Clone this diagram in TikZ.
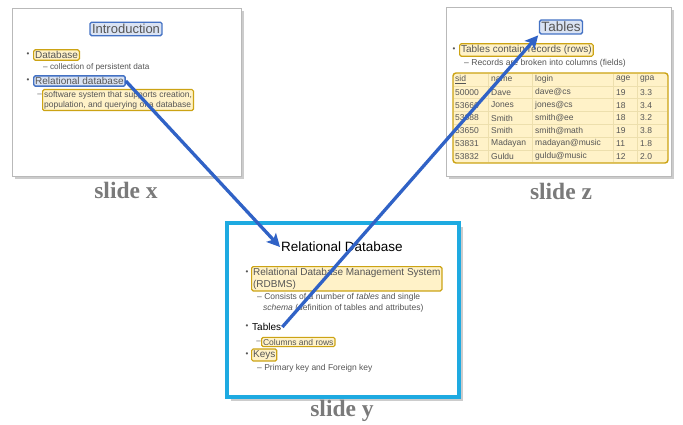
\documentclass[tikz,border=0pt]{standalone}
\usepackage{fontspec}
\setmainfont{Liberation Sans}
\newfontfamily\labelfont{Liberation Serif}
\usetikzlibrary{arrows.meta}

\definecolor{azulcaja}{RGB}{68,114,196}
\definecolor{azulfondo}{RGB}{218,227,243}
\definecolor{oro}{RGB}{204,163,20}
\definecolor{orofondo}{RGB}{255,242,200}
\definecolor{cian}{RGB}{30,170,225}
\definecolor{flecha}{RGB}{48,98,198}
\definecolor{texto}{RGB}{85,85,85}
\definecolor{gris}{RGB}{122,122,122}
\newcommand{\fsz}[2]{\fontsize{#1}{#2}\selectfont}

\tikzset{
  diapo/.style={draw=gray!55,fill=white,line width=0.6pt},
  sombra/.style={fill=gray!40},
  marcoazul/.style={draw=azulcaja,fill=azulfondo,line width=1.4pt,rounded corners=1.5pt,inner sep=2pt,text=texto},
  marcooro/.style={draw=oro,fill=orofondo,line width=1.2pt,rounded corners=1.5pt,inner sep=1.5pt,text=texto},
  txt/.style={text=texto,inner sep=1pt},
  punto/.style={text=texto,inner sep=0pt,font=\fsz{8}{8}},
  etiqueta/.style={font=\labelfont\bfseries\fsz{23.5}{24},text=gris},
  flechaazul/.style={draw=flecha,line width=3.3pt,-{Stealth[length=13pt,width=13pt,inset=3pt]}}
}

\begin{document}
\begin{tikzpicture}[x=1pt,y=-1pt]
  \useasboundingbox (0,0) rectangle (683,425);
  % slide x (arriba izquierda)
  \fill[sombra] (15,11) rectangle (244,179);
  \draw[diapo] (12,8) rectangle (241,176);
  \node[marcoazul,font=\fsz{13}{15}] (xtitulo) at (126,29){Introduction};
  \node[punto] (xp1) at (28,55){•};
  \node[marcooro,anchor=west,font=\fsz{10}{12}] (xdb) at (33,55){Database};
  \node[txt,anchor=west,font=\fsz{8.2}{9}] (xcol) at (42,67){-- collection of persistent data};
  \node[punto] (xp2) at (28,81){•};
  \node[marcoazul,anchor=west,font=\fsz{10}{12},inner sep=1.5pt] (xrel) at (33,81){Relational database};
  \node[txt,anchor=east,font=\fsz{8}{10}] (xguion) at (43,95){--};
  \node[marcooro,anchor=north west,align=left,font=\fsz{8.5}{10}] (xsoft) at (42,89){software system that supports creation,\\population, and querying of a database};
  \node[etiqueta] (lx) at (126,190){slide x};

  % slide z (arriba derecha)
  \fill[sombra] (449,10) rectangle (674,179);
  \draw[diapo] (446,7) rectangle (671,176);
  \node[marcoazul,font=\fsz{13.5}{15}] (ztitulo) at (561,27){Tables};
  \node[punto] (zp1) at (454,50){•};
  \node[marcooro,anchor=west,font=\fsz{10}{12}] (zrec) at (459,50){Tables contain records (rows)};
  \node[txt,anchor=west,font=\fsz{8.6}{9}] (zcol) at (463,63){-- Records are broken into columns (fields)};
  % tabla
  \draw[marcooro,line width=1.4pt,rounded corners=3pt] (453,73) rectangle (668,163);
  \foreach \i in {1,...,6} \draw[oro!35,line width=0.5pt] (454,73+\i*12.857) -- (667,73+\i*12.857);
  \foreach \xc in {488,532,613,637} \draw[oro!35,line width=0.5pt] (\xc,74) -- (\xc,162);
  \foreach \ca/\cb/\cc/\cd/\ce [count=\i from 0] in {\underline{sid}/name/login/age/gpa,50000/Dave/dave@cs/19/3.3,53666/Jones/jones@cs/18/3.4,53688/Smith/smith@ee/18/3.2,53650/Smith/smith@math/19/3.8,53831/Madayan/madayan@music/11/1.8,53832/Guldu/guldu@music/12/2.0}{
    \node[txt,anchor=west,font=\fsz{8.5}{9}] (t\i-1) at (454,73+\i*12.857+6.4){\ca};
    \node[txt,anchor=west,font=\fsz{8.5}{9}] (t\i-2) at (490,73+\i*12.857+6.4){\cb};
    \node[txt,anchor=west,font=\fsz{8.5}{9}] (t\i-3) at (534,73+\i*12.857+6.4){\cc};
    \node[txt,anchor=west,font=\fsz{8.5}{9}] (t\i-4) at (615,73+\i*12.857+6.4){\cd};
    \node[txt,anchor=west,font=\fsz{8.5}{9}] (t\i-5) at (639,73+\i*12.857+6.4){\ce};
  }
  \node[etiqueta] (lz) at (561,191){slide z};

  % slide y (abajo, marco cian)
  \fill[sombra] (231,227) rectangle (463,401);
  \draw[diapo,draw=cian,line width=3.5pt] (227,223) rectangle (459,397);
  \node[font=\fsz{13.5}{15},inner sep=1pt] (ytitulo) at (342,247){Relational Database};
  \node[punto] (yp1) at (247,273){•};
  \node[marcooro,anchor=north west,align=left,font=\fsz{10}{12}] (yrdbms) at (251,266){Relational Database Management System\\(RDBMS)};
  \node[txt,anchor=north west,align=left,font=\fsz{8.5}{11}] (ycons) at (256,292){-- Consists of a number of \textit{tables} and single\\\hspace{6pt}\textit{schema} (definition of tables and attributes)};
  \node[punto] (yp2) at (247,327){•};
  \node[anchor=west,font=\fsz{10}{12},inner sep=1pt] (ytablas) at (251,327){Tables};
  \node[txt,anchor=east,font=\fsz{8}{10}] (yguion) at (262,342){--};
  \node[marcooro,anchor=west,font=\fsz{8.5}{10}] (ycolumnas) at (261,342){Columns and rows};
  \node[punto] (yp3) at (247,355){•};
  \node[marcooro,anchor=west,font=\fsz{10}{12}] (ykeys) at (251,355){Keys};
  \node[txt,anchor=west,font=\fsz{8.5}{10}] (yprim) at (256,368){-- Primary key and Foreign key};
  \node[etiqueta] (ly) at (342,411){slide y};

  % flechas
  \draw[flechaazul] (xrel.east) -- (ytitulo.west);
  \draw[flechaazul,shorten >=1pt] (ytablas.east) -- (ztitulo.south west);
\end{tikzpicture}
\end{document}
